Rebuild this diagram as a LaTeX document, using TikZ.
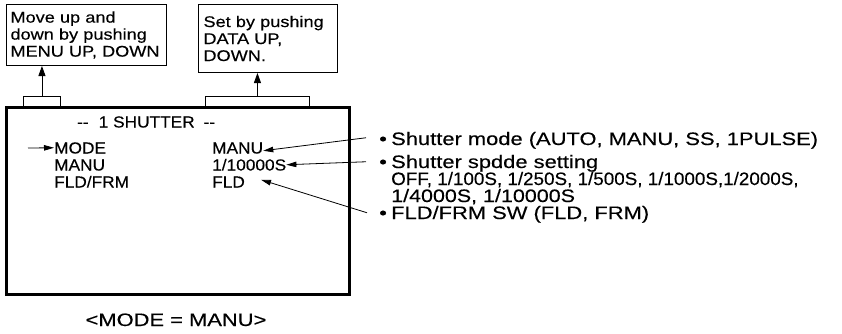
\documentclass[tikz,border=0pt]{standalone}
\usepackage{fontspec}
\setmainfont{Liberation Sans}
\newfontfamily\annfont{Liberation Sans}[FakeStretch=1.217,FakeBold=0.3]
\newfontfamily\scrfont{Liberation Sans}[FakeStretch=1.08,FakeBold=0.3]
\newfontfamily\notefont{Liberation Sans}[FakeStretch=1.17,FakeBold=0.3]
\usetikzlibrary{arrows.meta}
\begin{document}
\begin{tikzpicture}[x=1pt,y=-1pt,
  scr/.style={inner sep=0pt, anchor=base west, text height=11.5pt, text depth=0pt,
    font=\scrfont\fontsize{16}{17}\selectfont},
  ann/.style={inner sep=0pt, anchor=base west, text height=12.5pt, text depth=0pt,
    font=\annfont\fontsize{18}{17}\selectfont},
  note/.style={draw, line width=1pt, anchor=north west, inner xsep=4pt, inner ysep=0pt,
    align=left, font=\notefont\fontsize{15.5}{17}\selectfont},
  tab/.style={draw, line width=0.9pt, anchor=north west, inner sep=0pt},
  arr/.style={-{Triangle[length=10pt,width=5.5pt]}, line width=0.8pt},
  arrup/.style={-{Triangle[length=10pt,width=7pt]}, line width=0.9pt}]
\useasboundingbox (0,0) rectangle (842,333);
% top notes
\node[note, minimum width=160pt, minimum height=61pt, text width=152pt] (boxL) at (6,4)
  {Move up and\\down by pushing\\MENU UP, DOWN};
\node[note, minimum width=139pt, minimum height=68pt, text width=129pt, inner xsep=5pt] (boxR) at (198,4)
  {Set by pushing\\DATA UP,\\DOWN.};
% tabs
\node[tab, minimum width=37pt, minimum height=10pt] (tabL) at (23,96) {};
\node[tab, minimum width=104pt, minimum height=10pt] (tabR) at (205,96) {};
\draw[arrup] (tabL.north) -- (tabL.north |- boxL.south);
\draw[arrup] (tabR.north) -- (tabR.north |- boxR.south);
% screen
\node[draw, line width=2.6pt, anchor=north west, minimum width=343pt, minimum height=187pt, inner sep=0pt] (screen) at (5,106) {};
\node[scr] (title) at (77,127.5) {-{}-\hspace{10pt}1 SHUTTER\hspace{9pt}-{}-};
\node[scr] (mode) at (54,153.5) {MODE};
\node[scr] (manu) at (54,170.5) {MANU};
\node[scr] (fldfrm) at (54,187.5) {FLD/FRM};
\node[scr] (modeV) at (212,153.5) {MANU};
\node[scr] (speedV) at (212,170.5) {1/10000S};
\node[scr] (fldV) at (212,187.5) {FLD};
\coordinate (cur) at (28,148);
\draw[arr] (cur) -- (mode.west);
% annotations
\node[ann] (b1) at (379,145) {\textbullet};
\node[ann] (t1) at (391,145) {Shutter mode (AUTO, MANU, SS, 1PULSE)};
\node[ann] (b2) at (379,168) {\textbullet};
\node[ann] (t2) at (391,168) {Shutter spdde setting};
\node[ann] (t2b) at (391,185) {\scalebox{0.86}[1]{OFF, 1/100S, 1/250S, 1/500S, 1/1000S,1/2000S,}};
\node[ann] (t2c) at (391,202) {\scalebox{0.98}[1]{1/4000S, 1/10000S}};
\node[ann] (b3) at (379,219) {\textbullet};
\node[ann] (t3) at (391,219) {FLD/FRM SW (FLD, FRM)};
\draw[arr] ([xshift=-13pt,yshift=1pt]b1.west) -- ([yshift=-3pt]modeV.east);
\draw[arr] ([xshift=-13pt]b2.west) -- (speedV.east);
\draw[arr] ([xshift=-12pt]b3.west) -- ([xshift=16pt,yshift=2pt]fldV.east);
% caption
\node[inner sep=0pt, anchor=base, font=\annfont\fontsize{18}{17}\selectfont] (cap) at (176,326) {<MODE = MANU>};
\end{tikzpicture}
\end{document}
